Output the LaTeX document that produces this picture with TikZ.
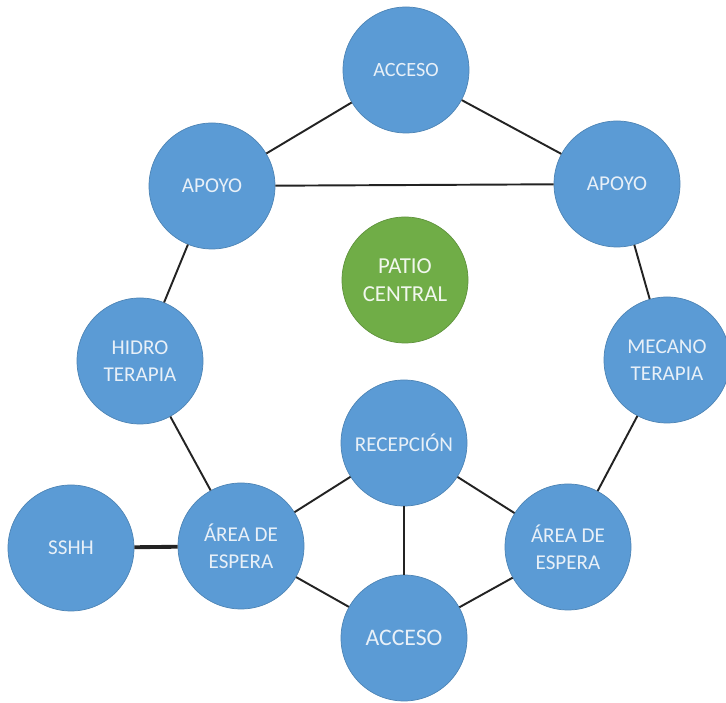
\documentclass[tikz,border=0pt]{standalone}
\usepackage{fontspec}
\setmainfont{Carlito}
\usepackage{tikz}
\usetikzlibrary{positioning}
\definecolor{myblue}{RGB}{91,155,213}
\definecolor{mygreen}{RGB}{112,173,71}
\definecolor{mytext}{RGB}{232,240,248}
\definecolor{myline}{RGB}{35,35,35}
\tikzset{
  zone/.style={circle, fill=myblue, draw=myblue!85!black, line width=0.4pt, minimum size=2.52cm, inner sep=0pt, align=center, text=mytext, font=\fontsize{12}{15.5}\selectfont},
  patio/.style={zone, fill=mygreen, draw=mygreen!85!black, text=white!90!mygreen, font=\fontsize{13}{16}\selectfont},
  link/.style={line width=1.1pt, color=myline},
  biglink/.style={line width=2.2pt, color=myline}
}
\begin{document}
\begin{tikzpicture}
  \useasboundingbox (0,0) rectangle (14.52,14.06);
  % Upper ring
  \node[zone, font=\fontsize{11.5}{14}\selectfont] (accesoT) at (8.12,12.66) {ACCESO};
  \node[zone] (apoyoL) at (4.24,10.34) {APOYO};
  \node[zone] (apoyoR) at (12.34,10.38) {APOYO};

  % Centre
  \node[patio] (patio) at (8.10,8.46) {PATIO\\CENTRAL};

  % Sides
  \node[zone] (hidro) at (2.80,6.84) {HIDRO\\TERAPIA};
  \node[zone] (mecano) at (13.34,6.86) {MECANO\\TERAPIA};

  % Lower part
  \node[zone] (recepcion) at (8.08,5.20) {RECEPCIÓN};
  \node[zone] (sshh) at (1.42,3.10) {SSHH};
  \node[zone] (esperaL) at (4.82,3.14) {ÁREA DE\\ESPERA};
  \node[zone] (esperaR) at (11.36,3.12) {ÁREA DE\\ESPERA};
  \node[zone, font=\fontsize{13.5}{16}\selectfont] (accesoB) at (8.08,1.30) {ACCESO};

  % Links
  \draw[link] (accesoT) -- (apoyoL);
  \draw[link] (accesoT) -- (apoyoR);
  \draw[link] (apoyoL) -- (apoyoR);
  \draw[link] (apoyoL) -- (hidro);
  \draw[link] (apoyoR) -- (mecano);
  \draw[link] (hidro) -- (esperaL);
  \draw[link] (mecano) -- (esperaR);
  \draw[biglink] (sshh) -- (esperaL);
  \draw[link] (esperaL) -- (recepcion);
  \draw[link] (recepcion) -- (esperaR);
  \draw[link] (recepcion) -- (accesoB);
  \draw[link] (esperaL) -- (accesoB);
  \draw[link] (esperaR) -- (accesoB);
\end{tikzpicture}
\end{document}
